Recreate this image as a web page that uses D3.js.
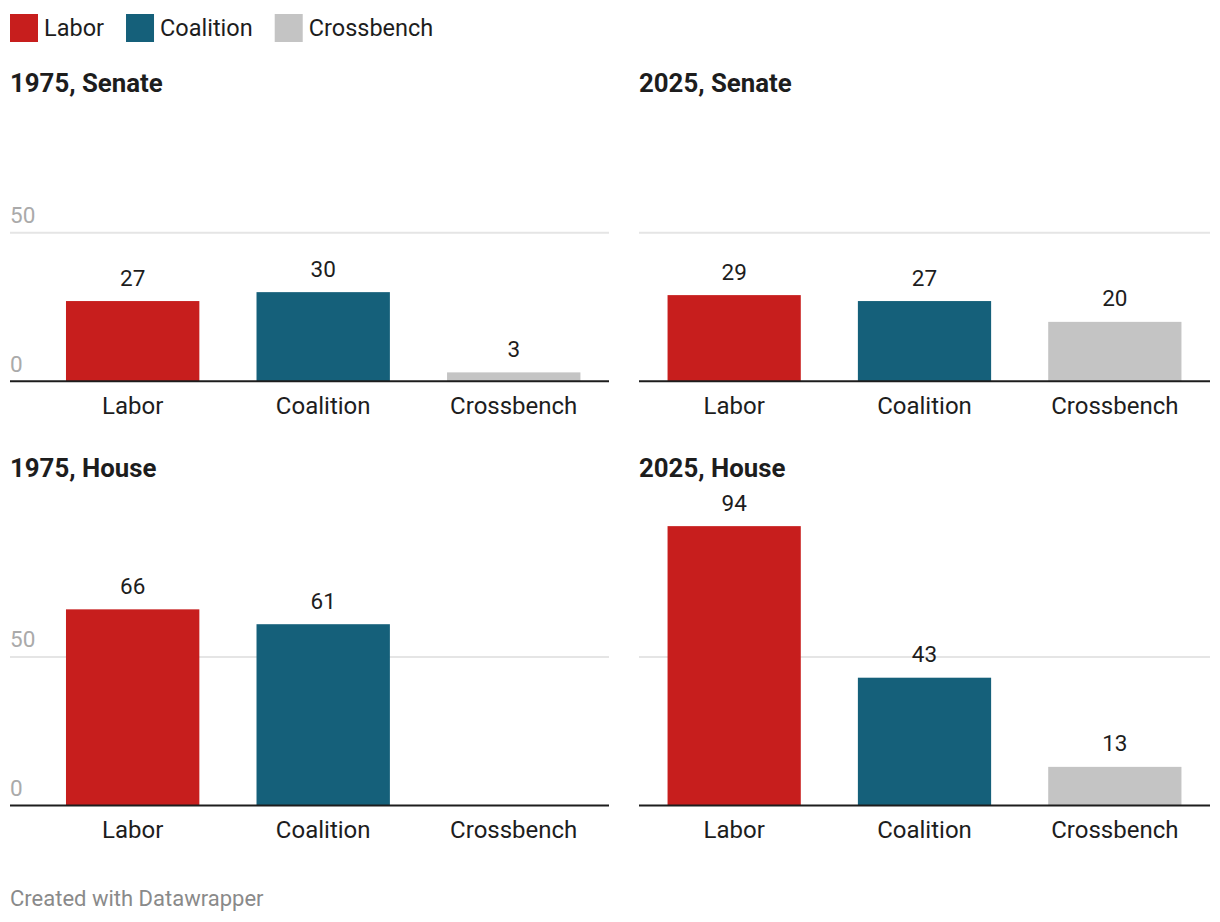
<!DOCTYPE html>
<html>
<head>
<meta charset="utf-8">
<script src="https://cdn.jsdelivr.net/npm/d3@7"></script>
<style>
  html, body { margin: 0; padding: 0; background: #fff; }
  svg { display: block; font-family: Roboto, "Noto Sans", sans-serif; }
</style>
</head>
<body>
<svg id="chart" width="1220" height="922"></svg>
<script>
// ---- data ----
const categories = ["Labor", "Coalition", "Crossbench"];
const panelTitles = ["1975, Senate", "2025, Senate", "1975, House", "2025, House"];
const senate1975 = [27, 30, 3];
const senate2025 = [29, 27, 20];
const house1975 = [66, 61, 0];
const house2025 = [94, 43, 13];
const yTicks = [0, 50];
const colors = ["#c71e1d", "#15607a", "#c4c4c4"];
const footerText = "Created with Datawrapper";

const panelValues = [senate1975, senate2025, house1975, house2025];

const svg = d3.select("#chart");

// ---- legend ----
const legend = svg.append("g");
let lx = 10;
categories.forEach((c, i) => {
  legend.append("rect").attr("x", lx).attr("y", 14).attr("width", 28).attr("height", 28).attr("fill", colors[i]);
  const t = legend.append("text").attr("x", lx + 34).attr("y", 36)
    .attr("font-size", 23.5).attr("fill", "#1d1d1d").text(c);
  lx += 34 + t.node().getComputedTextLength() + 22;
});

// ---- panels ----
const rows = [{ base: 381.3, title: 91.5 }, { base: 805.5, title: 477 }];
const cols = [{ x0: 10, plotX0: 37.4, x1: 609, ticks: true }, { x0: 639, plotX0: 639, x1: 1210, ticks: false }];

panelValues.forEach((vals, pi) => {
  const row = rows[Math.floor(pi / 2)];
  const col = cols[pi % 2];
  const g = svg.append("g");

  const x = d3.scaleBand().domain(categories).range([col.plotX0, col.x1]).paddingInner(0.3).paddingOuter(0.15);
  const y = d3.scaleLinear().domain([0, 100]).range([row.base, row.base - 297.2]);

  // title
  g.append("text").attr("x", col.x0).attr("y", row.title)
    .attr("font-size", 25.8).attr("font-weight", 700).attr("fill", "#1d1d1d")
    .text(panelTitles[pi]);

  // gridlines
  yTicks.filter(t => t !== 0).forEach(t => {
    g.append("line").attr("x1", col.x0).attr("x2", col.x1)
      .attr("y1", y(t)).attr("y2", y(t))
      .attr("stroke", "#e5e5e5").attr("stroke-width", 2);
  });
  if (col.ticks) {
    yTicks.forEach(t => {
      g.append("text").attr("x", col.x0).attr("y", y(t) - 9.5)
        .attr("font-size", 22.5).attr("fill", "#aaaaaa").text(t);
    });
  }

  // bars
  g.selectAll("rect.bar").data(vals).enter().append("rect")
    .attr("x", (d, i) => x(categories[i]))
    .attr("width", x.bandwidth())
    .attr("y", d => y(d))
    .attr("height", d => y(0) - y(d))
    .attr("fill", (d, i) => colors[i]);

  // value labels
  vals.forEach((d, i) => {
    if (d > 0) {
      g.append("text")
        .attr("x", x(categories[i]) + x.bandwidth() / 2)
        .attr("y", y(d) - 15.5)
        .attr("text-anchor", "middle").attr("font-size", 22.5).attr("fill", "#1d1d1d")
        .text(d);
    }
  });

  // baseline
  g.append("line").attr("x1", col.x0).attr("x2", col.x1)
    .attr("y1", y(0)).attr("y2", y(0))
    .attr("stroke", "#1d1d1d").attr("stroke-width", 2);

  // category labels
  categories.forEach(c => {
    g.append("text").attr("x", x(c) + x.bandwidth() / 2).attr("y", y(0) + 32.5)
      .attr("text-anchor", "middle").attr("font-size", 24).attr("fill", "#1d1d1d")
      .text(c);
  });
});

// footer
svg.append("text").attr("x", 10).attr("y", 905.5).attr("font-size", 22).attr("fill", "#8a8a8a").text(footerText);
</script>
</body>
</html>
